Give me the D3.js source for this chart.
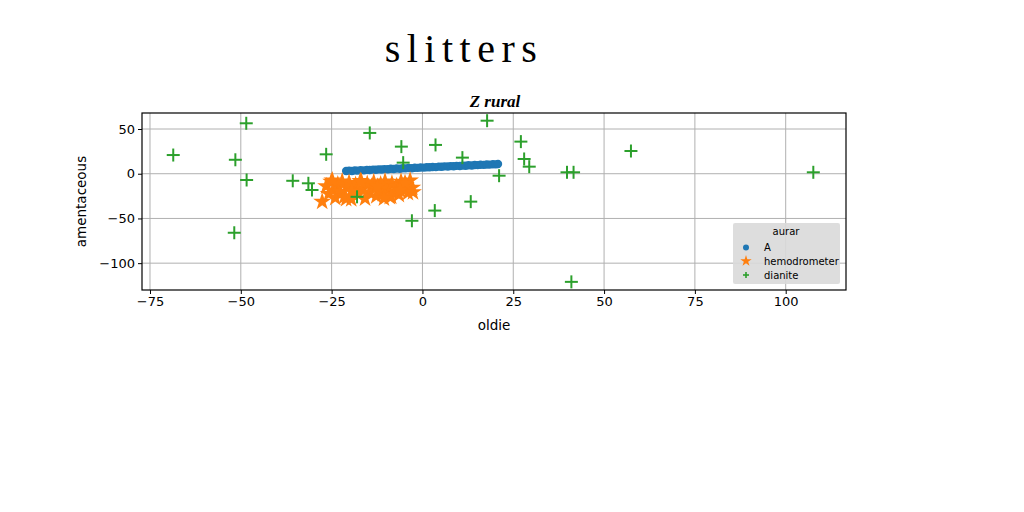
<!DOCTYPE html>
<html><head><meta charset="utf-8">
<script src="https://cdn.jsdelivr.net/npm/d3@7"></script>
<style>body{margin:0;background:#fff}svg{display:block}</style>
</head><body>
<script>
const titleText = "slitters";
const subtitleText = "Z rural";
const xLabel = "oldie";
const yLabel = "amentaceous";
const legendTitle = "aurar";
const seriesNames = ["A", "hemodrometer", "dianite"];
const seriesColors = ["#1f77b4", "#ff7f0e", "#2ca02c"];
const xTicks = [-75, -50, -25, 0, 25, 50, 75, 100];
const yTicks = [-100, -50, 0, 50];

const aX = [-21.0,-20.2,-19.4,-18.6,-17.8,-17.0,-16.1,-15.3,-14.5,-13.6,-12.8,-12.0,-11.2,-10.4,-9.5,-8.7,-7.9,-7.1,-6.2,-5.4,-4.6,-3.8,-2.9,-2.1,-1.3,-0.5,0.4,1.2,2.0,2.8,3.7,4.5,5.3,6.1,7.0,7.8,8.6,9.4,10.3,11.1,11.9,12.7,13.6,14.4,15.2,16.0,16.9,17.7,18.5,19.4,20.2,20.8];
const aY = [3.1,3.4,3.0,3.7,3.5,4.0,3.8,4.3,4.1,4.6,4.4,4.9,4.7,5.2,5.0,5.5,5.3,5.8,5.6,6.1,6.0,6.4,6.2,6.7,6.6,7.0,6.8,7.3,7.2,7.6,7.4,7.9,7.8,8.2,8.0,8.5,8.4,8.8,8.6,9.1,9.0,9.4,9.2,9.7,9.6,10.0,9.9,10.3,10.2,10.6,10.5,10.9];

const bX = [-27.6,-26.5,-25.8,-25.1,-24.6,-24.0,-23.3,-22.7,-22.1,-21.5,-20.8,-20.2,-19.6,-19.0,-18.4,-17.7,-17.1,-16.5,-15.8,-15.2,-14.6,-14.0,-13.4,-12.7,-12.1,-11.5,-10.9,-10.3,-9.6,-9.0,-8.4,-7.8,-7.1,-6.5,-5.9,-5.3,-4.6,-4.0,-3.4,-2.8,-24.8,-21.0,-16.8,-12.4,-8.6,-4.8,-19.5,-10.6,-6.2,-2.6];
const bY = [-31.3,-14.0,-22.5,-9.0,-18.5,-27.0,-12.0,-20.0,-8.5,-25.5,-15.5,-10.0,-28.5,-19.0,-12.5,-23.0,-8.0,-17.0,-27.5,-11.5,-21.0,-14.5,-9.5,-25.0,-18.0,-12.0,-22.5,-8.5,-16.0,-26.0,-11.0,-20.0,-14.0,-23.5,-9.0,-17.5,-12.5,-21.5,-7.5,-15.5,-7.5,-28.0,-9.0,-14.5,-25.5,-10.5,-19.5,-27.5,-18.5,-20.5];

const cX = [-68.6,-48.5,-51.5,-48.4,-51.8,-35.7,-31.4,-30.4,-26.5,-14.5,-5.8,-5.3,-18.0,3.6,11.0,13.3,3.4,-2.9,17.8,21.1,27.1,28.0,29.4,39.8,41.6,57.4,107.6,41.0];
const cY = [20.9,56.4,15.6,-7.0,-66.0,-7.9,-10.7,-18.2,21.7,45.6,30.3,12.4,-25.8,32.2,18.0,-31.2,-41.2,-52.6,59.3,-2.2,35.9,16.5,7.9,1.6,1.6,25.4,1.6,-120.9];

const W = 1024, H = 512;
const L = 142, R = 846, T = 113, B = 290;
const svg = d3.select("body").append("svg").attr("width", W).attr("height", H);
const x = d3.scaleLinear().domain([-77.2, 116.6]).range([L, R]);
const y = d3.scaleLinear().domain([-130.0, 67.9]).range([B, T]);
const font = "DejaVu Sans, sans-serif";

// grid
const grid = svg.append("g").attr("stroke", "#b0b0b0").attr("stroke-width", 1);
xTicks.forEach(v => grid.append("line").attr("x1", x(v)).attr("x2", x(v)).attr("y1", T).attr("y2", B));
yTicks.forEach(v => grid.append("line").attr("y1", y(v)).attr("y2", y(v)).attr("x1", L).attr("x2", R));

// clip
svg.append("clipPath").attr("id", "clip").append("rect").attr("x", L).attr("y", T).attr("width", R - L).attr("height", B - T);
const plot = svg.append("g").attr("clip-path", "url(#clip)");

// series A
plot.append("g").selectAll("circle").data(aX.map((v, i) => [v, aY[i]])).join("circle")
  .attr("cx", d => x(d[0])).attr("cy", d => y(d[1])).attr("r", 4.2).attr("fill", seriesColors[0]);
// series hemodrometer
const star = d3.symbol().type(d3.symbolStar).size(100);
plot.append("g").selectAll("path").data(bX.map((v, i) => [v, bY[i]])).join("path")
  .attr("d", star).attr("transform", d => `translate(${x(d[0])},${y(d[1])})`).attr("fill", seriesColors[1]);
// series dianite
const plusG = plot.append("g").attr("stroke", seriesColors[2]).attr("stroke-width", 2);
cX.forEach((v, i) => {
  const px = x(v), py = y(cY[i]);
  plusG.append("line").attr("x1", px - 6.5).attr("x2", px + 6.5).attr("y1", py).attr("y2", py);
  plusG.append("line").attr("x1", px).attr("x2", px).attr("y1", py - 6.5).attr("y2", py + 6.5);
});

// frame
svg.append("rect").attr("x", L).attr("y", T).attr("width", R - L).attr("height", B - T)
  .attr("fill", "none").attr("stroke", "#000").attr("stroke-width", 1.2);

// axes
const xAxis = svg.append("g").attr("transform", `translate(0,${B})`)
  .call(d3.axisBottom(x).tickValues(xTicks).tickSize(4).tickPadding(3).tickFormat(d => d < 0 ? "\u2212" + Math.abs(d) : d));
const yAxis = svg.append("g").attr("transform", `translate(${L},0)`)
  .call(d3.axisLeft(y).tickValues(yTicks).tickSize(4).tickPadding(3).tickFormat(d => d < 0 ? "\u2212" + Math.abs(d) : d));
[xAxis, yAxis].forEach(a => {
  a.select(".domain").remove();
  a.selectAll("text").attr("font-family", font).attr("font-size", 13).attr("fill", "#000");
  a.selectAll("line").attr("stroke", "#000");
});

svg.append("text").attr("x", (L + R) / 2).attr("y", 330).attr("text-anchor", "middle")
  .attr("font-family", font).attr("font-size", 13.5).text(xLabel);
svg.append("text").attr("transform", `translate(86,${(T + B) / 2}) rotate(-90)`).attr("text-anchor", "middle")
  .attr("font-family", font).attr("font-size", 13.5).text(yLabel);

// titles
svg.append("text").attr("x", 464).attr("y", 62).attr("text-anchor", "middle")
  .attr("font-family", "Liberation Serif, serif").attr("font-size", 40).attr("letter-spacing", 6.5).text(titleText);
svg.append("text").attr("x", 495).attr("y", 107).attr("text-anchor", "middle")
  .attr("font-family", "cursive").attr("font-style", "italic").attr("font-weight", "bold").attr("font-size", 17).text(subtitleText);

// legend
const lg = svg.append("g");
lg.append("rect").attr("x", 733).attr("y", 223).attr("width", 107).attr("height", 61).attr("rx", 2)
  .attr("fill", "#d9d9d9").attr("opacity", 0.9);
lg.append("text").attr("x", 786).attr("y", 235).attr("text-anchor", "middle").attr("font-family", font).attr("font-size", 10).text(legendTitle);
const rows = [248, 262, 276];
lg.append("circle").attr("cx", 746).attr("cy", rows[0] - 0.5).attr("r", 3).attr("fill", seriesColors[0]);
lg.append("path").attr("d", d3.symbol().type(d3.symbolStar).size(40)).attr("transform", `translate(746,${rows[1] - 1})`).attr("fill", seriesColors[1]);
lg.append("g").attr("stroke", seriesColors[2]).attr("stroke-width", 1.6).call(g => {
  g.append("line").attr("x1", 743).attr("x2", 749).attr("y1", rows[2] - 1).attr("y2", rows[2] - 1);
  g.append("line").attr("x1", 746).attr("x2", 746).attr("y1", rows[2] - 4).attr("y2", rows[2] + 2);
});
seriesNames.forEach((n, i) => lg.append("text").attr("x", 764).attr("y", rows[i] + 3)
  .attr("font-family", font).attr("font-size", 10).text(n));
</script>
</body></html>
